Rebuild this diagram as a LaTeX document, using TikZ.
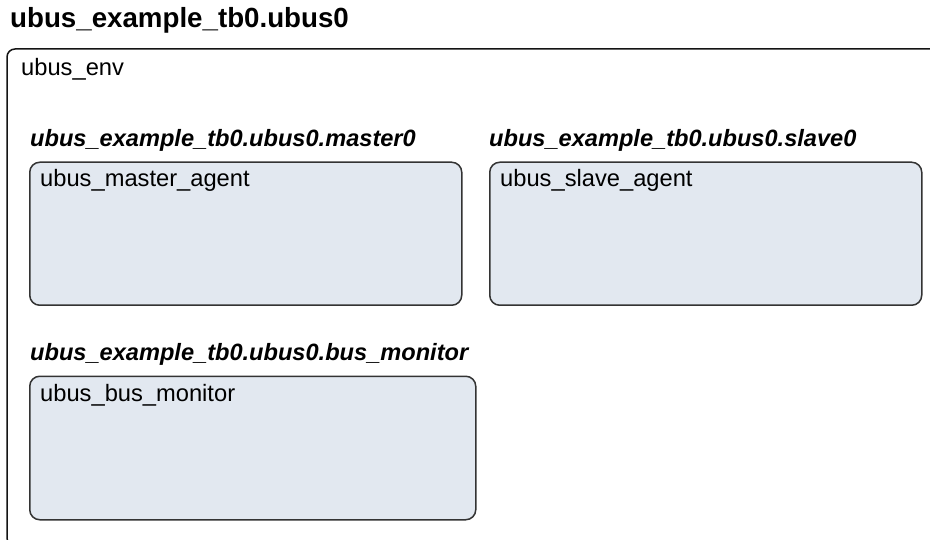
\documentclass[tikz,border=0pt]{standalone}
\usepackage{fontspec}
\setmainfont{Liberation Sans}
\usepackage{tikz}
\usetikzlibrary{positioning, calc}
\definecolor{AgentFill}{RGB}{226, 232, 240}
\definecolor{AgentEdge}{RGB}{51, 51, 51}
\definecolor{EnvEdge}{RGB}{20, 20, 20}

\begin{document}
\begin{tikzpicture}[x=1pt, y=-1pt,
    envbox/.style={draw=EnvEdge, line width=1.5pt, rounded corners=8pt},
    agentbox/.style={draw=AgentEdge, fill=AgentFill, line width=1.5pt, rounded corners=10pt,
        anchor=north west, inner sep=0pt},
    pathtitle/.style={anchor=base west, inner sep=0pt, font=\fontsize{23.6}{28}\selectfont\bfseries\itshape},
    typename/.style={anchor=base west, inner sep=0pt, font=\fontsize{23.7}{28}\selectfont}]
    % Page frame
    \path[use as bounding box, clip] (0,0) rectangle (930,540);

    % Top instance name
    \node[anchor=base west, inner sep=0pt, font=\fontsize{27.7}{32}\selectfont\bfseries] (ubustitle) at (10,28) {ubus\_example\_tb0.ubus0};

    % Environment (runs off the page)
    \draw[envbox] (7,49) rectangle (946,546);
    \node[typename] (envname) at (21,76) {ubus\_env};

    % Master agent
    \node[pathtitle] (mastertitle) at (30,147) {ubus\_example\_tb0.ubus0.master0};
    \node[agentbox, minimum width=432pt, minimum height=143pt] (master) at (29,161.5) {};
    \node[typename] (mastername) at (40,187) {ubus\_master\_agent};

    % Slave agent
    \node[pathtitle] (slavetitle) at (489,147) {ubus\_example\_tb0.ubus0.slave0};
    \node[agentbox, minimum width=432pt, minimum height=143pt] (slave) at (489,161.5) {};
    \node[typename] (slavename) at (500,187) {ubus\_slave\_agent};

    % Bus monitor
    \node[pathtitle] (montitle) at (30,361) {ubus\_example\_tb0.ubus0.bus\_monitor};
    \node[agentbox, minimum width=446pt, minimum height=143.5pt] (monitor) at (29,375.5) {};
    \node[typename] (monname) at (40,401) {ubus\_bus\_monitor};
\end{tikzpicture}
\end{document}
